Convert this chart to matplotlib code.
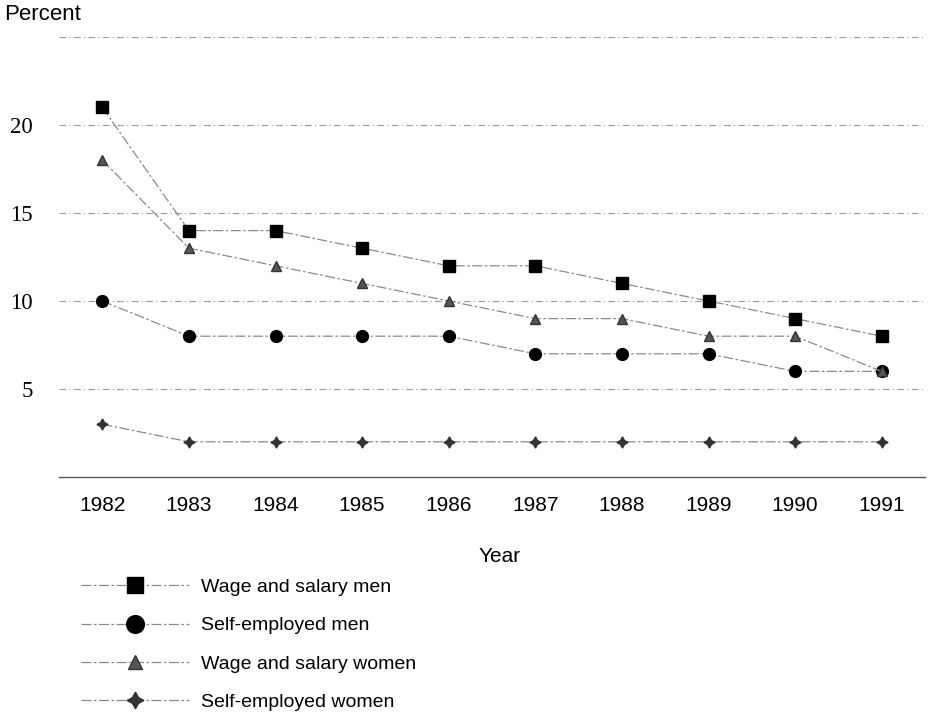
import matplotlib
matplotlib.use('Agg')
import matplotlib.pyplot as plt

years = [1982, 1983, 1984, 1985, 1986, 1987, 1988, 1989, 1990, 1991]
wage_men = [21, 14, 14, 13, 12, 12, 11, 10, 9, 8]
self_men = [10, 8, 8, 8, 8, 7, 7, 7, 6, 6]
wage_women = [18, 13, 12, 11, 10, 9, 9, 8, 8, 6]
self_women = [3, 2, 2, 2, 2, 2, 2, 2, 2, 2]
y_ticks = [5, 10, 15, 20]
y_grid = [5, 10, 15, 20, 25]

plt.rcParams['font.family'] = ['Liberation Sans', 'DejaVu Sans']

fig = plt.figure(figsize=(9.31, 7.22), dpi=100)
ax = fig.add_axes([59 / 931, 245 / 722, 866 / 931, 440 / 722])

# faint dashed gridlines
for g in y_grid:
    ax.axhline(g, color='#999999', lw=0.8, ls=(0, (6, 3, 1, 3)), zorder=0)

line_kw = dict(color='#8a8a8a', lw=0.9, ls=(0, (8, 2, 2, 2)))
ax.plot(years, wage_men, marker='s', ms=8, mfc='black', mec='black',
        label='Wage and salary men', **line_kw)
ax.plot(years, self_men, marker='o', ms=8.5, mfc='black', mec='black',
        label='Self-employed men', **line_kw)
ax.plot(years, wage_women, marker='^', ms=7, mfc='#555555', mec='#333333',
        label='Wage and salary women', **line_kw)
ax.plot(years, self_women, marker=(4, 1, 0), ms=8, mfc='#333333', mec='#333333',
        label='Self-employed women', **line_kw)

ax.set_xlim(1981.5, 1991.5)
ax.set_ylim(0, 25)

ax.set_xticks(years)
ax.set_xticklabels([str(y) for y in years], fontsize=15)
ax.set_yticks(y_ticks)
ax.set_yticklabels([str(t) for t in y_ticks], fontsize=16.5, family='Liberation Serif')
ax.tick_params(axis='both', length=0)
ax.tick_params(axis='y', pad=19)
ax.tick_params(axis='x', pad=14)

for side in ['top', 'right', 'left']:
    ax.spines[side].set_visible(False)
ax.spines['bottom'].set_color('#555555')
ax.spines['bottom'].set_linewidth(1.0)

fig.text(4 / 931, 1 - 15 / 722, 'Percent', fontsize=16, ha='left', va='center')
fig.text(500 / 931, 1 - 557 / 722, 'Year', fontsize=15, ha='center', va='center')

fig.legend(loc='upper left', bbox_to_anchor=(63 / 931, 1 - 561 / 722),
           frameon=False, fontsize=14, handlelength=5.6, handletextpad=0.6,
           labelspacing=1.06, markerscale=1.5)

plt.savefig('out.png')
